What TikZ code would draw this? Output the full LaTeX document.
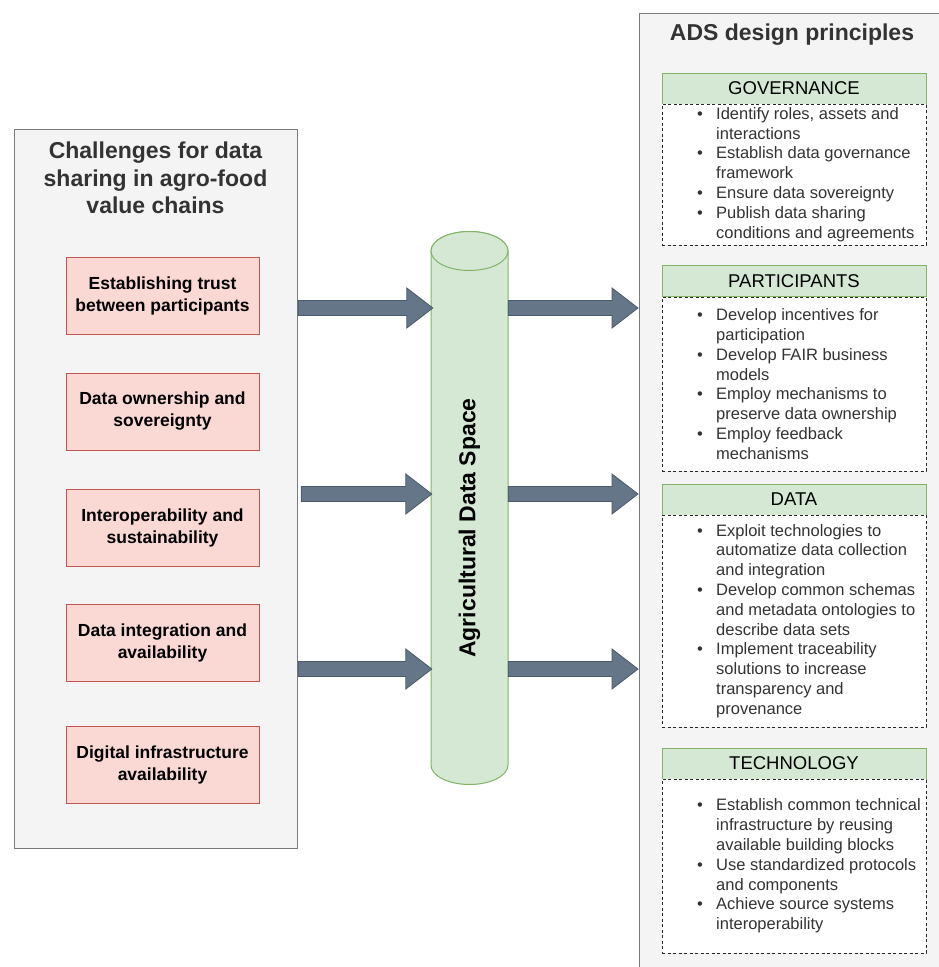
\documentclass[tikz,border=0pt]{standalone}
\usepackage{fontspec}
\setmainfont{Liberation Sans}
\usetikzlibrary{calc}
\definecolor{panelfill}{HTML}{F4F4F4}
\definecolor{panelline}{HTML}{7A7A7A}
\definecolor{titlecol}{HTML}{333333}
\definecolor{redfill}{HTML}{FAD9D5}
\definecolor{redline}{HTML}{C0564E}
\definecolor{greenfill}{HTML}{D5E8D4}
\definecolor{greenline}{HTML}{82B366}
\definecolor{arrfill}{HTML}{647687}
\definecolor{arrline}{HTML}{4A5A6A}
\newcommand{\fatarrow}[2]{%
  \filldraw[fatarr] ($(#1)+(0,-7.5)$) -- ($(#2)+(-26,-7.5)$) -- ($(#2)+(-26,-20)$) -- (#2)
    -- ($(#2)+(-26,20)$) -- ($(#2)+(-26,7.5)$) -- ($(#1)+(0,7.5)$) -- cycle;}
\newcommand{\bul}{\makebox[19pt][l]{\textbullet}}
\newcommand{\ind}{\hspace*{19pt}}
\begin{document}
\begin{tikzpicture}[x=1pt,y=-1pt,
  panel/.style={draw=panelline,fill=panelfill,line width=1.2pt,inner sep=0pt},
  ptitle/.style={font=\fontsize{23}{27.5}\selectfont\bfseries,text=titlecol,align=center,inner sep=0pt},
  redbox/.style={draw=redline,fill=redfill,line width=1pt,minimum width=193pt,minimum height=77pt,
    align=center,font=\fontsize{17.5}{22}\selectfont\bfseries,inner sep=0pt},
  hdr/.style={draw=greenline,fill=greenfill,line width=1pt,minimum width=264pt,minimum height=31pt,
    font=\fontsize{18.5}{22}\selectfont,inner sep=0pt},
  dbox/.style={draw=black!85,fill=white,line width=0.9pt,dash pattern=on 3pt off 2.5pt,minimum width=264pt,inner sep=0pt},
  blist/.style={anchor=west,align=left,font=\fontsize{16.5}{19.8}\selectfont,text=titlecol,inner sep=0pt},
  fatarr/.style={fill=arrfill,draw=arrline,line width=0.8pt,line join=miter},
  cylstyle/.style={fill=greenfill,draw=greenline,line width=1pt}
]
\useasboundingbox (0,0) rectangle (939,967);
\fill[white] (0,0) rectangle (939,967);

% left panel
\node[panel,anchor=north west,minimum width=283pt,minimum height=719pt] (left) at (14,129) {};
\node[ptitle] (ltitle) at (155.5,178) {Challenges for data\\sharing in agro-food\\value chains};
\node[redbox] (c1) at (162.5,296) {Establishing trust\\between participants};
\node[redbox] (c2) at (162.5,411.5) {Data ownership and\\sovereignty};
\node[redbox] (c3) at (162.5,527.5) {Interoperability and\\sustainability};
\node[redbox] (c4) at (162.5,643) {Data integration and\\availability};
\node[redbox] (c5) at (162.5,765) {Digital infrastructure\\availability};

% right panel
\begin{scope}
\clip (0,0) rectangle (939,967);
\node[panel,anchor=north west,minimum width=330pt,minimum height=990pt] (right) at (639,13) {};
\end{scope}
\node[ptitle] (rtitle) at (792,35) {ADS design principles};

\node[hdr] (h1) at (794,88.5) {GOVERNANCE};
\node[dbox,minimum height=141pt] (d1) at (794,174.5) {};
\node[blist] (t1) at (697,174.5) {\bul Identify roles, assets and\\\ind interactions\\\bul Establish data governance\\\ind framework\\\bul Ensure data sovereignty\\\bul Publish data sharing\\\ind conditions and agreements};

\node[hdr] (h2) at (794,281) {PARTICIPANTS};
\node[dbox,minimum height=174pt] (d2) at (794,384) {};
\node[blist] (t2) at (697,384) {\bul Develop incentives for\\\ind participation\\\bul Develop FAIR business\\\ind models\\\bul Employ mechanisms to\\\ind preserve data ownership\\\bul Employ feedback\\\ind mechanisms};

\node[hdr] (h3) at (794,499.5) {DATA};
\node[dbox,minimum height=212pt] (d3) at (794,621) {};
\node[blist] (t3) at (697,621) {\bul Exploit technologies to\\\ind automatize data collection\\\ind and integration\\\bul Develop common schemas\\\ind and metadata ontologies to\\\ind describe data sets\\\bul Implement traceability\\\ind solutions to increase\\\ind transparency and\\\ind provenance};

\node[hdr] (h4) at (794,763.5) {TECHNOLOGY};
\node[dbox,minimum height=174pt] (d4) at (794,866) {};
\node[blist] (t4) at (697,866) {\bul Establish common technical\\\ind infrastructure by reusing\\\ind available building blocks\\\bul Use standardized protocols\\\ind and components\\\bul Achieve source systems\\\ind interoperability};

% cylinder
\node[minimum width=77pt,minimum height=514pt,inner sep=0pt] (cyl) at (469.5,508) {};
\filldraw[cylstyle] (431,251) -- (431,765) arc (180:0:38.5 and 19.5) -- (508,251) arc (0:-180:38.5 and 19.5) -- cycle;
\filldraw[cylstyle] (469.5,251) ellipse (38.5 and 19.5);
\node[rotate=90,font=\fontsize{23}{27}\selectfont\bfseries,inner sep=0pt] (cyltext) at (469.5,528) {Agricultural Data Space};

% arrows
\coordinate (y1) at (0,308);
\coordinate (y2) at (0,494);
\coordinate (y3) at (0,669);
\coordinate (a1s) at (left.east |- y1);
\coordinate (a1e) at ($(cyl.west |- y1)+(2,0)$);
\coordinate (a2s) at ($(left.east |- y2)+(3,0)$);
\coordinate (a2e) at ($(cyl.west |- y2)+(1,0)$);
\coordinate (a3s) at (left.east |- y3);
\coordinate (a3e) at ($(cyl.west |- y3)+(1,0)$);
\coordinate (b1s) at (cyl.east |- y1);
\coordinate (b1e) at ($(right.west |- y1)+(-1,0)$);
\coordinate (b2s) at (cyl.east |- y2);
\coordinate (b2e) at ($(right.west |- y2)+(-1,0)$);
\coordinate (b3s) at (cyl.east |- y3);
\coordinate (b3e) at ($(right.west |- y3)+(-1,0)$);
\fatarrow{a1s}{a1e}
\fatarrow{a2s}{a2e}
\fatarrow{a3s}{a3e}
\fatarrow{b1s}{b1e}
\fatarrow{b2s}{b2e}
\fatarrow{b3s}{b3e}
\end{tikzpicture}
\end{document}
